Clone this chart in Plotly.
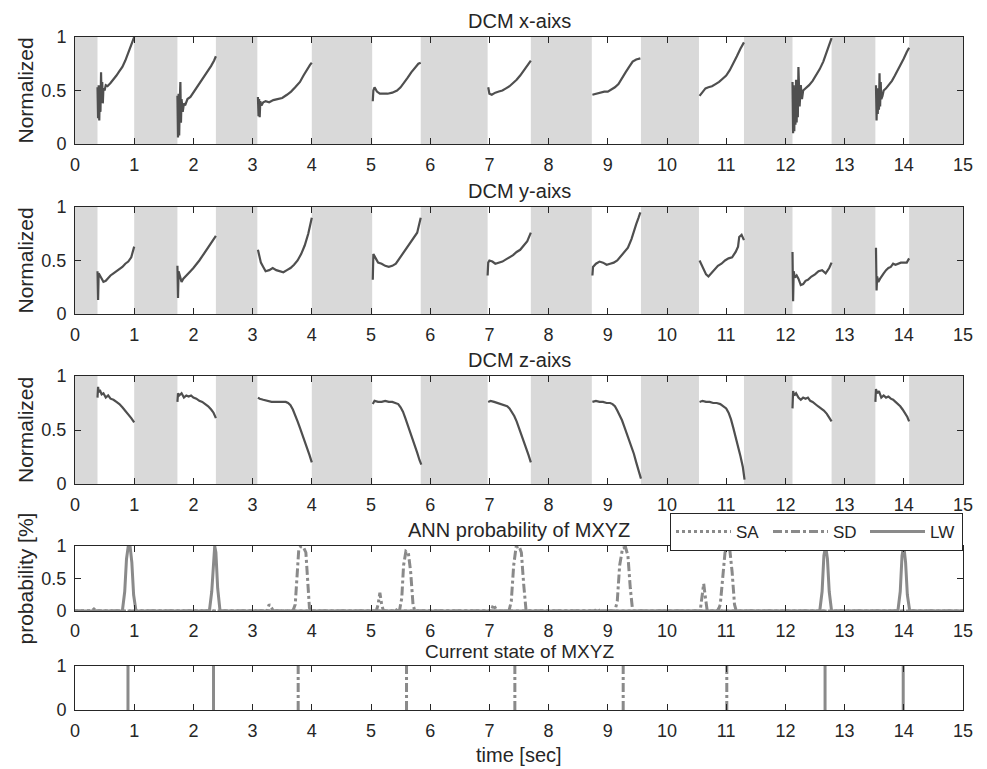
import plotly.graph_objects as go

# ---------------- data ----------------
shade_start = [0.0, 1.00, 2.38, 4.00, 5.84, 7.70, 9.56, 11.30, 12.78, 14.09]
shade_end   = [0.38, 1.73, 3.08, 5.02, 6.97, 8.73, 10.54, 12.12, 13.52, 15.0]

N = None
dcm_x_t = [0.38,0.39,0.40,0.41,0.42,0.43,0.44,0.45,0.46,0.47,0.48,0.50,0.52,0.55,0.60,0.65,0.70,0.75,0.80,0.85,0.90,0.95,1.00, N,
           1.73,1.74,1.75,1.76,1.77,1.78,1.79,1.80,1.82,1.84,1.86,1.90,1.95,2.00,2.05,2.10,2.15,2.20,2.25,2.30,2.35,2.38, N,
           3.09,3.10,3.11,3.12,3.13,3.15,3.18,3.22,3.28,3.35,3.42,3.50,3.58,3.65,3.72,3.80,3.86,3.92,3.97,4.00, N,
           5.03,5.04,5.06,5.10,5.15,5.20,5.28,5.36,5.44,5.50,5.56,5.62,5.68,5.74,5.80,5.84, N,
           6.98,7.00,7.04,7.10,7.16,7.22,7.28,7.34,7.40,7.46,7.52,7.58,7.64,7.70, N,
           8.74,8.80,8.87,8.94,9.00,9.06,9.12,9.18,9.24,9.30,9.36,9.42,9.48,9.55, N,
           10.55,10.60,10.65,10.70,10.76,10.82,10.88,10.94,11.00,11.06,11.12,11.18,11.24,11.30, N,
           12.12,12.13,12.14,12.15,12.16,12.17,12.18,12.19,12.20,12.21,12.22,12.24,12.26,12.28,12.30,12.34,12.40,12.46,12.52,12.58,12.64,12.70,12.75,12.78, N,
           13.53,13.54,13.55,13.56,13.57,13.58,13.59,13.60,13.61,13.62,13.64,13.66,13.70,13.75,13.80,13.85,13.90,13.95,14.00,14.05,14.09]
dcm_x_v = [0.53,0.24,0.55,0.22,0.52,0.30,0.67,0.40,0.58,0.38,0.52,0.50,0.55,0.54,0.57,0.60,0.64,0.68,0.72,0.78,0.85,0.92,1.00, N,
           0.45,0.06,0.47,0.08,0.40,0.58,0.20,0.42,0.30,0.38,0.36,0.42,0.44,0.48,0.52,0.56,0.60,0.65,0.69,0.73,0.78,0.82, N,
           0.44,0.26,0.42,0.25,0.40,0.36,0.39,0.40,0.39,0.41,0.42,0.43,0.46,0.49,0.53,0.58,0.64,0.70,0.74,0.76, N,
           0.40,0.50,0.53,0.49,0.47,0.47,0.47,0.48,0.50,0.53,0.57,0.62,0.67,0.71,0.75,0.76, N,
           0.53,0.47,0.46,0.48,0.49,0.50,0.52,0.54,0.57,0.60,0.64,0.69,0.74,0.78, N,
           0.46,0.47,0.48,0.49,0.49,0.51,0.53,0.56,0.62,0.67,0.72,0.77,0.79,0.80, N,
           0.45,0.49,0.52,0.53,0.54,0.56,0.58,0.61,0.64,0.69,0.75,0.82,0.89,0.95, N,
           0.58,0.10,0.55,0.12,0.52,0.18,0.60,0.20,0.55,0.25,0.72,0.35,0.55,0.42,0.50,0.52,0.55,0.59,0.64,0.70,0.77,0.86,0.95,0.99, N,
           0.55,0.22,0.52,0.28,0.50,0.32,0.66,0.35,0.58,0.42,0.45,0.50,0.52,0.55,0.59,0.64,0.69,0.74,0.80,0.86,0.90]

dcm_y_t = [0.38,0.39,0.40,0.42,0.45,0.48,0.52,0.56,0.60,0.65,0.70,0.75,0.80,0.85,0.90,0.95,1.00, N,
           1.73,1.74,1.75,1.77,1.80,1.83,1.86,1.90,1.95,2.00,2.05,2.10,2.15,2.20,2.25,2.30,2.35,2.38, N,
           3.09,3.11,3.14,3.18,3.22,3.28,3.34,3.40,3.46,3.52,3.58,3.64,3.70,3.76,3.82,3.88,3.94,4.00, N,
           5.03,5.04,5.05,5.08,5.12,5.18,5.24,5.30,5.36,5.42,5.48,5.54,5.60,5.66,5.72,5.78,5.84, N,
           6.97,6.98,7.00,7.05,7.10,7.16,7.22,7.28,7.34,7.40,7.46,7.52,7.58,7.64,7.70, N,
           8.74,8.75,8.80,8.86,8.92,8.98,9.04,9.10,9.16,9.22,9.28,9.34,9.40,9.44,9.48,9.52,9.55, N,
           10.55,10.58,10.62,10.66,10.70,10.75,10.80,10.86,10.92,10.98,11.04,11.10,11.16,11.20,11.22,11.26,11.30, N,
           12.12,12.13,12.14,12.16,12.19,12.22,12.26,12.30,12.34,12.38,12.44,12.50,12.56,12.62,12.68,12.74,12.78, N,
           13.53,13.54,13.55,13.57,13.60,13.63,13.66,13.70,13.74,13.78,13.82,13.86,13.90,13.95,14.00,14.05,14.09]
dcm_y_v = [0.40,0.13,0.38,0.36,0.32,0.30,0.31,0.34,0.36,0.38,0.40,0.42,0.44,0.47,0.49,0.53,0.63, N,
           0.45,0.15,0.40,0.36,0.30,0.33,0.35,0.37,0.40,0.43,0.46,0.50,0.54,0.58,0.62,0.66,0.70,0.73, N,
           0.60,0.55,0.48,0.44,0.40,0.41,0.43,0.41,0.40,0.39,0.41,0.43,0.46,0.50,0.56,0.64,0.75,0.90, N,
           0.32,0.56,0.55,0.52,0.48,0.47,0.45,0.44,0.45,0.47,0.52,0.56,0.62,0.66,0.72,0.76,0.90, N,
           0.36,0.48,0.50,0.49,0.47,0.48,0.49,0.51,0.53,0.55,0.58,0.60,0.64,0.68,0.76, N,
           0.36,0.44,0.47,0.49,0.48,0.46,0.47,0.48,0.50,0.54,0.58,0.62,0.70,0.76,0.84,0.90,0.95, N,
           0.50,0.46,0.41,0.37,0.35,0.38,0.41,0.45,0.47,0.50,0.52,0.53,0.58,0.63,0.72,0.74,0.69, N,
           0.58,0.12,0.40,0.34,0.36,0.33,0.27,0.28,0.31,0.32,0.35,0.37,0.40,0.41,0.38,0.43,0.48, N,
           0.62,0.22,0.35,0.30,0.33,0.36,0.38,0.41,0.43,0.44,0.47,0.46,0.47,0.48,0.48,0.48,0.52]

dcm_z_t = [0.38,0.39,0.40,0.42,0.45,0.48,0.52,0.56,0.60,0.65,0.70,0.75,0.80,0.85,0.90,0.95,1.00, N,
           1.73,1.74,1.76,1.80,1.84,1.88,1.92,1.96,2.00,2.05,2.10,2.15,2.20,2.25,2.30,2.34,2.38, N,
           3.09,3.12,3.18,3.25,3.32,3.40,3.48,3.56,3.60,3.64,3.68,3.72,3.76,3.80,3.84,3.88,3.92,3.96,4.00, N,
           5.03,5.06,5.12,5.18,5.24,5.30,5.36,5.42,5.46,5.50,5.54,5.58,5.62,5.66,5.70,5.74,5.78,5.82,5.85, N,
           6.98,7.02,7.08,7.14,7.20,7.26,7.30,7.34,7.38,7.42,7.46,7.50,7.54,7.58,7.62,7.66,7.70, N,
           8.74,8.80,8.86,8.92,8.98,9.04,9.08,9.12,9.16,9.20,9.24,9.28,9.32,9.36,9.40,9.44,9.48,9.52,9.56, N,
           10.55,10.60,10.66,10.72,10.78,10.84,10.90,10.96,11.00,11.04,11.08,11.12,11.16,11.20,11.24,11.28,11.31, N,
           12.12,12.13,12.15,12.18,12.22,12.26,12.30,12.34,12.38,12.42,12.46,12.50,12.55,12.60,12.65,12.70,12.74,12.78, N,
           13.52,13.53,13.55,13.58,13.62,13.66,13.70,13.74,13.78,13.82,13.86,13.90,13.94,13.98,14.02,14.06,14.09]
dcm_z_v = [0.80,0.90,0.85,0.87,0.83,0.84,0.80,0.82,0.79,0.78,0.76,0.74,0.71,0.68,0.65,0.61,0.57, N,
           0.76,0.84,0.82,0.84,0.80,0.82,0.81,0.82,0.80,0.79,0.77,0.76,0.74,0.72,0.69,0.66,0.61, N,
           0.80,0.79,0.78,0.77,0.76,0.76,0.76,0.76,0.75,0.73,0.69,0.64,0.58,0.52,0.46,0.39,0.33,0.27,0.20, N,
           0.74,0.77,0.76,0.76,0.77,0.76,0.76,0.75,0.74,0.71,0.67,0.61,0.55,0.49,0.43,0.36,0.29,0.22,0.18, N,
           0.76,0.77,0.76,0.75,0.74,0.73,0.72,0.70,0.67,0.63,0.58,0.52,0.46,0.40,0.34,0.27,0.20, N,
           0.76,0.77,0.76,0.76,0.75,0.75,0.74,0.72,0.68,0.64,0.59,0.53,0.47,0.41,0.35,0.28,0.20,0.12,0.05, N,
           0.76,0.77,0.76,0.76,0.75,0.75,0.74,0.72,0.70,0.66,0.60,0.52,0.44,0.35,0.26,0.16,0.04, N,
           0.70,0.86,0.82,0.84,0.80,0.78,0.80,0.79,0.80,0.77,0.76,0.74,0.72,0.70,0.68,0.65,0.62,0.58, N,
           0.76,0.88,0.84,0.86,0.80,0.82,0.80,0.81,0.79,0.78,0.76,0.74,0.72,0.69,0.66,0.62,0.58]

# ANN probabilities
sa_t = [0.0, 0.28, 0.32, 0.36, 3.24, 3.28, 3.32, 3.35, 5.42, 5.46, 5.49, 7.03, 7.07, 7.11, 7.15,
        8.78, 8.82, 8.86, 10.85, 10.88, 10.91, 15.0]
sa_p = [0, 0, 0.03, 0, 0, 0.10, 0.05, 0, 0, 0.05, 0, 0, 0.10, 0.03, 0,
        0, 0.04, 0, 0, 0.05, 0, 0]
sd_t = [0.0, 3.68, 3.72, 3.75, 3.78, 3.82, 3.86, 3.90, 3.93, 3.96, 3.98,
        5.09, 5.12, 5.15, 5.18, 5.21,
        5.48, 5.52, 5.55, 5.59, 5.63, 5.67, 5.71, 5.74,
        7.33, 7.37, 7.41, 7.45, 7.50, 7.54, 7.58, 7.62,
        9.12, 9.16, 9.20, 9.25, 9.30, 9.34, 9.38, 9.42,
        10.56, 10.59, 10.62, 10.65, 10.68,
        10.86, 10.90, 10.94, 10.98, 11.02, 11.06, 11.10, 11.14, 11.17, 15.0]
sd_p = [0, 0, 0.10, 0.60, 0.95, 1.00, 0.98, 0.90, 0.50, 0.05, 0,
        0, 0.10, 0.28, 0.10, 0,
        0, 0.20, 0.70, 0.92, 0.90, 0.60, 0.10, 0,
        0, 0.15, 0.70, 0.98, 1.00, 0.90, 0.40, 0,
        0, 0.15, 0.70, 0.97, 0.98, 0.85, 0.35, 0,
        0, 0.20, 0.42, 0.20, 0,
        0, 0.10, 0.50, 0.90, 1.00, 0.95, 0.60, 0.10, 0, 0]
lw_t = [0.0, 0.80, 0.84, 0.87, 0.90, 0.93, 0.96, 0.99, 1.03,
        2.27, 2.31, 2.34, 2.36, 2.38, 2.41, 2.45,
        12.58, 12.62, 12.65, 12.68, 12.71, 12.74, 12.78,
        13.90, 13.94, 13.97, 14.00, 14.03, 14.06, 14.10, 15.0]
lw_p = [0, 0, 0.30, 0.80, 1.00, 1.00, 0.75, 0.25, 0,
        0, 0.30, 0.85, 1.00, 0.90, 0.35, 0,
        0, 0.30, 0.85, 1.00, 0.80, 0.30, 0,
        0, 0.30, 0.85, 1.00, 0.75, 0.25, 0, 0]

state_t = [0.895, 2.34, 3.77, 5.60, 7.43, 9.26, 11.01, 12.67, 13.99]
state_type = ['LW', 'LW', 'SD', 'SD', 'SD', 'SD', 'SD', 'LW', 'LW']

x_ticks = list(range(0, 16))
titles = ["DCM x-aixs", "DCM y-aixs", "DCM z-aixs", "ANN probability of MXYZ", "Current state of MXYZ"]

# ---------------- layout helpers ----------------
# the page body has an 8px margin, so the figure is drawn 8px in from the window corner
OFF = 8
W, H = 987 - OFF, 769 - OFF
def px_x(p):
    return (p - OFF) / W
def px_y(p):
    return 1 - (p - OFF) / H

X0, X1 = 75, 963
panels_px = [(37, 144), (207, 314), (376, 484), (546, 611), (666, 710)]
title_y_px = [21, 191, 360, 530, 651]
title_fs = [20, 20, 20, 20, 19]
FONT = "Arial, Liberation Sans, sans-serif"
TXT = "#262626"
AX = "#262626"
TICK_FS = 18
LABEL_FS = 21

fig = go.Figure()

dcm_data = [(dcm_x_t, dcm_x_v), (dcm_y_t, dcm_y_v), (dcm_z_t, dcm_z_v)]
for i, (t, v) in enumerate(dcm_data):
    ax = "" if i == 0 else str(i + 1)
    fig.add_trace(go.Scatter(x=t, y=v, mode="lines", xaxis="x" + ax, yaxis="y" + ax,
                             line=dict(color="#4f4f4f", width=2.2), showlegend=False,
                             connectgaps=False, hoverinfo="skip"))
    for s, e in zip(shade_start, shade_end):
        fig.add_shape(type="rect", xref="x" + ax, yref="y" + ax + " domain",
                      x0=s, x1=e, y0=0, y1=1, fillcolor="#d9d9d9", line_width=0, layer="below")

GRAY = "#8a8a8a"
fig.add_trace(go.Scatter(x=sa_t, y=sa_p, mode="lines", xaxis="x4", yaxis="y4", name="SA",
                         line=dict(color=GRAY, width=3, dash="dot")))
fig.add_trace(go.Scatter(x=sd_t, y=sd_p, mode="lines", xaxis="x4", yaxis="y4", name="SD",
                         line=dict(color=GRAY, width=3, dash="dashdot")))
fig.add_trace(go.Scatter(x=lw_t, y=lw_p, mode="lines", xaxis="x4", yaxis="y4", name="LW",
                         line=dict(color=GRAY, width=3, dash="solid")))

for t, k in zip(state_t, state_type):
    fig.add_trace(go.Scatter(x=[t, t], y=[0, 1], mode="lines", xaxis="x5", yaxis="y5",
                             showlegend=False, hoverinfo="skip",
                             line=dict(color=GRAY, width=3, dash="solid" if k == "LW" else "dashdot")))

layout = dict(width=W, height=H, margin=dict(l=0, r=0, t=0, b=0, autoexpand=False),
              paper_bgcolor="white", plot_bgcolor="white",
              font=dict(family=FONT, size=TICK_FS, color=TXT))

for i, (top, bot) in enumerate(panels_px):
    ax = "" if i == 0 else str(i + 1)
    yt = [0, 1] if i == 4 else [0, 0.5, 1]
    layout["xaxis" + ax] = dict(domain=[px_x(X0), px_x(X1)], range=[0, 15], anchor="y" + ax,
                                tickvals=x_ticks, ticktext=[str(v) for v in x_ticks],
                                ticks="inside", ticklen=6, tickcolor=AX, showline=True,
                                linecolor=AX, linewidth=1, mirror="ticks", showgrid=False,
                                zeroline=False, ticklabelstandoff=3 if i == 3 else 4,
                                automargin=False, tickfont=dict(size=TICK_FS, color=TXT))
    layout["yaxis" + ax] = dict(domain=[px_y(bot), px_y(top)], range=[0, 1], anchor="x" + ax,
                                tickvals=yt, ticktext=["0", "0.5", "1"] if i < 4 else ["0", "1"],
                                ticks="inside", ticklen=6, tickcolor=AX, showline=True,
                                linecolor=AX, linewidth=1, mirror="ticks", showgrid=False,
                                zeroline=False, ticklabelstandoff=4, automargin=False,
                                tickfont=dict(size=TICK_FS, color=TXT))

annotations = []
for i, ty in enumerate(title_y_px):
    annotations.append(dict(text=titles[i], x=px_x((X0 + X1) / 2), y=px_y(ty), xref="paper", yref="paper",
                            showarrow=False, xanchor="center", yanchor="middle",
                            font=dict(size=title_fs[i], color=TXT)))
for i in range(3):
    top, bot = panels_px[i]
    annotations.append(dict(text="Normalized", x=px_x(25), y=px_y((top + bot) / 2), xref="paper", yref="paper",
                            showarrow=False, textangle=-90, xanchor="center", yanchor="middle",
                            font=dict(size=LABEL_FS, color=TXT)))
top, bot = panels_px[3]
annotations.append(dict(text="probability [%]", x=px_x(25), y=px_y((top + bot) / 2), xref="paper", yref="paper",
                        showarrow=False, textangle=-90, xanchor="center", yanchor="middle",
                        font=dict(size=LABEL_FS, color=TXT)))
annotations.append(dict(text="time [sec]", x=px_x((X0 + X1) / 2), y=px_y(755), xref="paper", yref="paper",
                        showarrow=False, xanchor="center", yanchor="middle",
                        font=dict(size=20, color=TXT)))
layout["annotations"] = annotations
layout["legend"] = dict(orientation="h", x=px_x(X1), xanchor="right", y=px_y(513), yanchor="top",
                        bgcolor="white", bordercolor=AX, borderwidth=1,
                        font=dict(size=17, color=TXT), itemwidth=55, entrywidth=27,
                        entrywidthmode="pixels", tracegroupgap=0, valign="middle")
fig.update_layout(**layout)
fig.write_html("out.html")
